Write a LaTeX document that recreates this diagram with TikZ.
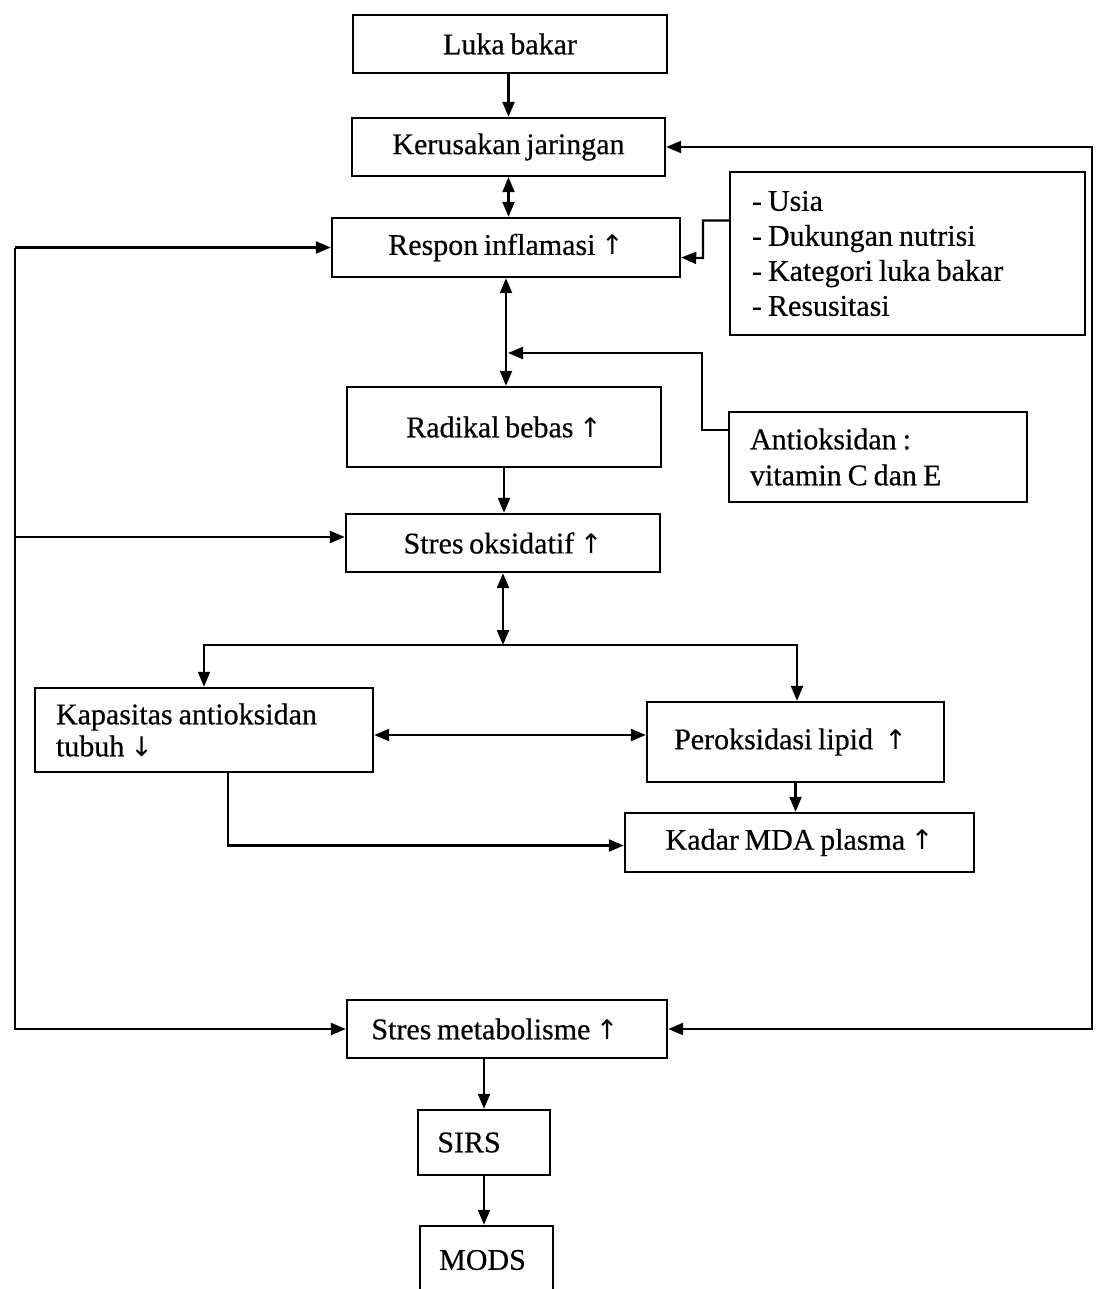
\documentclass[tikz,border=0pt]{standalone}
\usepackage{fontspec}
\setmainfont{Liberation Serif}[FakeBold=0.5, WordSpace=0.75]
\newfontfamily\arrowfont{DejaVu Sans}
\newcommand{\up}{{\arrowfont\fontsize{27}{30}\selectfont ↑}}
\newcommand{\down}{{\arrowfont\fontsize{27}{30}\selectfont ↓}}
\newcommand{\tightsp}{\spaceskip=6pt\relax}
\usetikzlibrary{arrows.meta}
\begin{document}
\begin{tikzpicture}[x=1pt,y=-1pt,
  box/.style={draw, line width=2.4pt, inner sep=0pt, font=\fontsize{30}{34}\selectfont},
  link/.style={line width=2.2pt, -{Triangle[length=15pt,width=12pt]}},
  twoway/.style={line width=2.2pt, {Triangle[length=15pt,width=12pt]}-{Triangle[length=15pt,width=12pt]}}
]
\useasboundingbox (0,0) rectangle (1096,1289);
\clip (0,0) rectangle (1096,1289);

% main chain
\node[box, minimum width=314, minimum height=58] (luka) at (510,44) {Luka bakar};
\node[box, minimum width=313, minimum height=58] (kerusakan) at (508.5,147) {Kerusakan jaringan};
\node[box, minimum width=348, minimum height=59] (respon) at (506,247.5) {Respon inflamasi \up};
\node[box, minimum width=355, minimum height=163, text width=311, align=left,
      font=\fontsize{30}{35}\selectfont] (faktor) at (907.5,253.5)
  {\tightsp - Usia\\- Dukungan nutrisi\\- Kategori luka bakar\\- Resusitasi};
\node[box, minimum width=314, minimum height=80] (radikal) at (504,427) {Radikal bebas \up};
\node[box, minimum width=298, minimum height=90, text width=256, align=left,
      font=\fontsize{30}{36}\selectfont] (antiok) at (878,457)
  {\tightsp Antioksidan :\\vitamin C dan E};
\node[box, minimum width=314, minimum height=58] (oks) at (503,543) {Stres oksidatif \up};
\node[box, minimum width=338, minimum height=84, text width=296, align=left,
      font=\fontsize{30}{32}\selectfont] (kapasitas) at (204,730)
  {\tightsp Kapasitas antioksidan\\tubuh \down};
\node[box, minimum width=297, minimum height=80] (perok) at (795.5,742) {Peroksidasi lipid\ \ \up\kern10pt};
\node[box, minimum width=349, minimum height=59] (kadar) at (799.5,842.5) {Kadar MDA plasma \up};
\node[box, minimum width=320, minimum height=58] (metab) at (507,1029) {Stres metabolisme \up\kern24pt};
\node[box, minimum width=132, minimum height=65] (sirs) at (484,1142.5) {SIRS\kern30pt};
\node[box, minimum width=133, minimum height=68] (mods) at (486.5,1260) {MODS\kern8pt};

% vertical links
\draw[link] (luka.south) -- (kerusakan.south |- luka.south) -- (kerusakan.north);
\draw[twoway] (kerusakan.south) -- (kerusakan.south |- respon.north);
\draw[twoway] (respon.south) -- (respon.south |- radikal.north);
\draw[link] (radikal.south) -- (radikal.south |- oks.north);
\draw[link] (perok.south) -- (perok.south |- kadar.north);
\draw[link] (sirs.north |- metab.south) -- (sirs.north);
\draw[link] (sirs.south) -- (sirs.south |- mods.north);

% side inputs
\draw[link] ([yshift=27pt]antiok.west) -| (702,353) -- ([xshift=2pt]respon.south |- 0,353);
\draw[link] ([yshift=33pt]faktor.west) -| (703,258) -- ([yshift=-10pt]respon.east);

% right feedback loop
\draw[twoway] (kerusakan.east) -| (1092,600) |- (metab.east);

% left bus
\draw[link] (respon.west -| 15,0) -- (respon.west);
\draw[link] ([yshift=6pt]oks.west -| 15,0) -- ([yshift=6pt]oks.west);
\draw[link] (respon.west -| 15,0) |- (metab.west);

% branching below oxidative stress
\coordinate (split) at (503,645);
\draw[twoway] (oks.south) -- (oks.south |- split);
\draw[link] (split) -| (kapasitas.north);
\draw[link] (split) -| ([xshift=1.5pt]perok.north);
\draw[twoway] ([yshift=-5pt]kapasitas.east) -- ([yshift=-5pt]kapasitas.east -| perok.west);
\draw[link] ([xshift=24pt]kapasitas.south) |- ([yshift=-3pt]kadar.west);
\end{tikzpicture}
\end{document}
